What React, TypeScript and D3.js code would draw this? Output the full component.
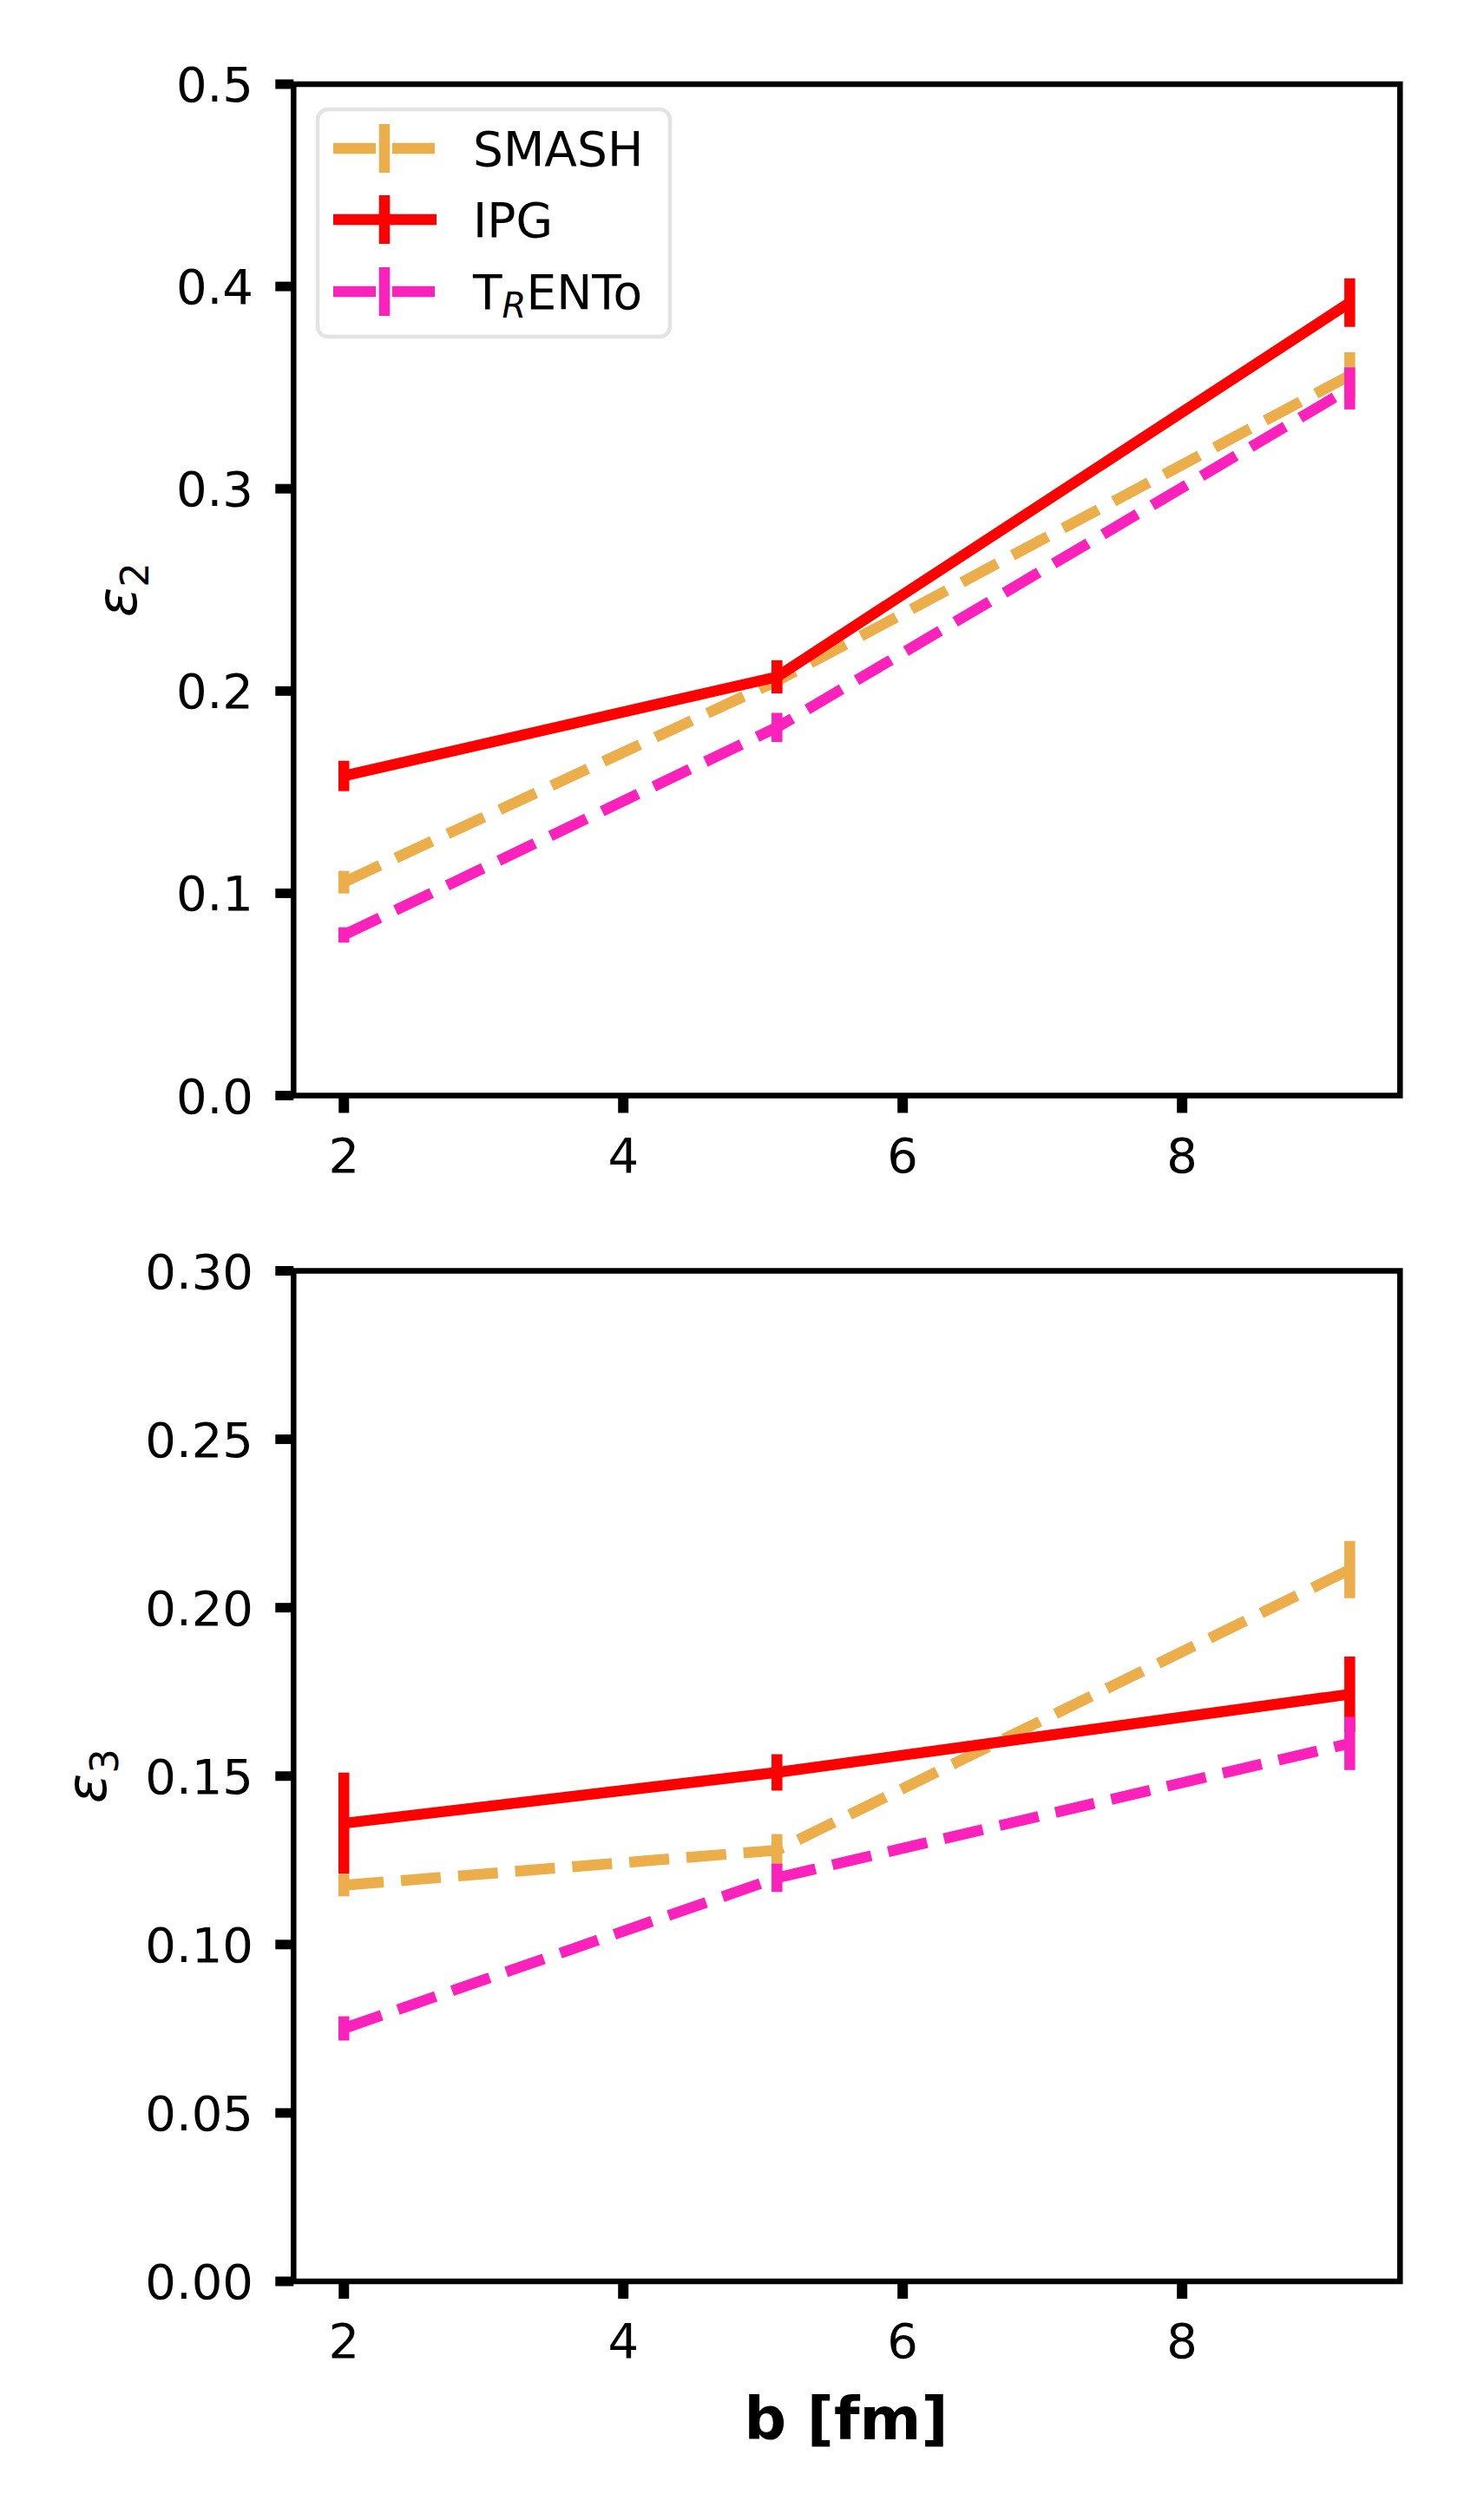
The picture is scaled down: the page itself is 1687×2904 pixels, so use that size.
import * as d3 from 'd3';

// impact parameter b [fm]
const bValues = [2, 5.1, 9.2];

// eccentricity epsilon_2
const smashEps2 = [0.1055, 0.205, 0.356];
const smashEps2Err = [0.0056, 0.006, 0.0115];
const ipgEps2 = [0.158, 0.207, 0.392];
const ipgEps2Err = [0.0075, 0.0082, 0.012];
const trentoEps2 = [0.0794, 0.182, 0.3496];
const trentoEps2Err = [0.0038, 0.0072, 0.0104];

// eccentricity epsilon_3
const smashEps3 = [0.1176, 0.128, 0.2113];
const smashEps3Err = [0.0033, 0.0048, 0.0085];
const ipgEps3 = [0.136, 0.1511, 0.1743];
const ipgEps3Err = [0.015, 0.0054, 0.0112];
const trentoEps3 = [0.0751, 0.1198, 0.1597];
const trentoEps3Err = [0.0036, 0.0042, 0.0079];

const xTicks = [2, 4, 6, 8];
const eps2Ticks = [0, 0.1, 0.2, 0.3, 0.4, 0.5];
const eps3Ticks = [0, 0.05, 0.1, 0.15, 0.2, 0.25, 0.3];

const W = 1687;
const H = 2904;
const FONT = 'DejaVu Sans, sans-serif';

const colors = {
    smash: '#ecad4b',
    ipg: '#ff0000',
    trento: '#fb22bc'
};

const LW = 12.5;
const DASH = '46 20';

interface Series {
    name: string;
    values: number[];
    errors: number[];
    color: string;
    dashed: boolean;
}

interface PanelProps {
    top: number;
    bottom: number;
    yMax: number;
    yTicks: number[];
    tickFormat: (v: number) => string;
    series: Series[];
    sub: string;
    labelX: number;
    showLegend?: boolean;
    showXLabel?: boolean;
}

const xScale = d3.scaleLinear().domain([1.64, 9.56]).range([338.3, 1613.3]);

function Panel({ top, bottom, yMax, yTicks, tickFormat, series, sub, labelX, showLegend, showXLabel }: PanelProps) {
    const yScale = d3.scaleLinear().domain([0, yMax]).range([bottom, top]);
    const [x0, x1] = xScale.range();
    const line = d3.line<[number, number]>()
        .x(d => xScale(d[0]))
        .y(d => yScale(d[1]));

    return (
        <g>
            {/* data */}
            {series.map(s => (
                <g key={s.name}>
                    <path
                        d={line(bValues.map((b, i) => [b, s.values[i]] as [number, number])) || ''}
                        fill="none"
                        stroke={s.color}
                        strokeWidth={LW}
                        strokeDasharray={s.dashed ? DASH : undefined}
                    />
                    {bValues.map((b, i) => (
                        <line
                            key={i}
                            x1={xScale(b)}
                            x2={xScale(b)}
                            y1={yScale(s.values[i] - s.errors[i])}
                            y2={yScale(s.values[i] + s.errors[i])}
                            stroke={s.color}
                            strokeWidth={LW}
                        />
                    ))}
                </g>
            ))}

            {/* frame */}
            <rect x={x0} y={top} width={x1 - x0} height={bottom - top}
                fill="none" stroke="#000" strokeWidth={6.5} />

            {/* y ticks */}
            {yTicks.map(t => (
                <g key={t}>
                    <line x1={x0 - 21} x2={x0} y1={yScale(t)} y2={yScale(t)} stroke="#000" strokeWidth={11} />
                    <text x={292} y={yScale(t) + 20} textAnchor="end" fontFamily={FONT} fontSize={56}>
                        {tickFormat(t)}
                    </text>
                </g>
            ))}

            {/* x ticks */}
            {xTicks.map(t => (
                <g key={t}>
                    <line x1={xScale(t)} x2={xScale(t)} y1={bottom} y2={bottom + 20} stroke="#000" strokeWidth={12} />
                    <text x={xScale(t)} y={bottom + 88} textAnchor="middle" fontFamily={FONT} fontSize={56}>
                        {t}
                    </text>
                </g>
            ))}

            {/* y label */}
            <text
                transform={`translate(${labelX},${(top + bottom) / 2}) rotate(-90)`}
                textAnchor="middle"
                fontFamily={FONT}
                fontSize={64}
            >
                <tspan fontStyle="italic">ε</tspan>
                <tspan fontSize={45} dy={14}>{sub}</tspan>
            </text>

            {showXLabel && (
                <text x={975} y={2811} textAnchor="middle" fontFamily={FONT} fontSize={68} fontWeight="bold">
                    b [fm]
                </text>
            )}

            {showLegend && <Legend series={series} />}
        </g>
    );
}

function Legend({ series }: { series: Series[] }) {
    const rows = [171, 253, 336];
    const hx0 = 384;
    const hx1 = 503;
    const hc = 443;
    return (
        <g>
            <rect x={366} y={126} width={406} height={262} rx={12}
                fill="#fff" stroke="#e3e3e3" strokeWidth={4.5} />
            {series.map((s, i) => (
                <g key={s.name}>
                    <line x1={hx0} x2={hx1} y1={rows[i]} y2={rows[i]}
                        stroke={s.color} strokeWidth={LW}
                        strokeDasharray={s.dashed ? '49 19' : undefined} />
                    <line x1={hc} x2={hc} y1={rows[i] - 28} y2={rows[i] + 28}
                        stroke={s.color} strokeWidth={LW} />
                    <text x={545} y={rows[i] + 20} fontFamily={FONT} fontSize={55}>
                        {s.name === 'TRENTo' ? (
                            <>
                                T
                                <tspan fontStyle="italic" fontSize={40} dy={10}>R</tspan>
                                <tspan dy={-10}>ENTo</tspan>
                            </>
                        ) : s.name}
                    </text>
                </g>
            ))}
        </g>
    );
}

export default function App() {
    const eps2Series: Series[] = [
        { name: 'SMASH', values: smashEps2, errors: smashEps2Err, color: colors.smash, dashed: true },
        { name: 'IPG', values: ipgEps2, errors: ipgEps2Err, color: colors.ipg, dashed: false },
        { name: 'TRENTo', values: trentoEps2, errors: trentoEps2Err, color: colors.trento, dashed: true }
    ];
    const eps3Series: Series[] = [
        { name: 'SMASH', values: smashEps3, errors: smashEps3Err, color: colors.smash, dashed: true },
        { name: 'IPG', values: ipgEps3, errors: ipgEps3Err, color: colors.ipg, dashed: false },
        { name: 'TRENTo', values: trentoEps3, errors: trentoEps3Err, color: colors.trento, dashed: true }
    ];

    return (
        <svg
            width={W}
            height={H}
            viewBox={`0 0 ${W} ${H}`}
            style={{ position: 'absolute', left: 0, top: 0, background: '#fff' }}
        >
            <rect width={W} height={H} fill="#fff" />
            <Panel
                top={97}
                bottom={1262.5}
                yMax={0.5}
                yTicks={eps2Ticks}
                tickFormat={d3.format('.1f')}
                series={eps2Series}
                sub="2"
                labelX={157}
                showLegend
            />
            <Panel
                top={1464.5}
                bottom={2629}
                yMax={0.3}
                yTicks={eps3Ticks}
                tickFormat={d3.format('.2f')}
                series={eps3Series}
                sub="3"
                labelX={122}
                showXLabel
            />
        </svg>
    );
}
